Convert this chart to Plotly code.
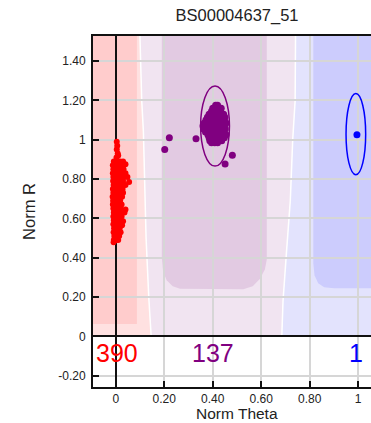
import plotly.graph_objects as go

# ---------------- data ----------------
title_text = "BS00004637_51"
x_title = "Norm Theta"
y_title = "Norm R"

x_tickvals = [0, 0.2, 0.4, 0.6, 0.8, 1.0]
x_ticktext = ["0", "0.20", "0.40", "0.60", "0.80", "1"]
y_tickvals = [-0.2, 0, 0.2, 0.4, 0.6, 0.8, 1.0, 1.2, 1.4]
y_ticktext = ["-0.20", "0", "0.20", "0.40", "0.60", "0.80", "1", "1.20", "1.40"]

x_range = [-0.094, 1.053]
y_range = [-0.258, 1.528]

# red cluster (x ~ 0)
red_x = [0.004, 0.006, 0.004, 0.008, 0.003, 0.010,
         -0.008, 0.005, 0.018, 0.030,
         -0.012, 0.002, 0.015, 0.028, 0.040,
         -0.010, 0.004, 0.020, 0.032,
         -0.012, 0.000, 0.012, 0.026, 0.040,
         -0.010, 0.006, 0.020, 0.034, 0.048,
         -0.011, 0.002, 0.016, 0.030, 0.055,
         -0.009, 0.008, 0.022, 0.040,
         -0.012, 0.003, 0.016, 0.028,
         -0.010, 0.005, 0.020, 0.030,
         -0.013, 0.000, 0.014, 0.026,
         -0.011, 0.004, 0.018,
         -0.012, 0.002, 0.015, 0.024,
         -0.010, 0.006, 0.020, 0.040,
         -0.008, 0.004, 0.016, 0.036,
         -0.010, 0.002, 0.014, 0.024,
         -0.008, 0.006, 0.018, 0.030,
         -0.010, 0.003, 0.015, 0.026,
         -0.007, 0.005, 0.016,
         -0.009, 0.002, 0.012, 0.020,
         -0.006, 0.005, 0.014,
         -0.008, 0.002, 0.010,
         -0.009]
red_y = [0.99, 0.97, 0.95, 0.93, 0.91, 0.92,
         0.89, 0.89, 0.89, 0.89,
         0.87, 0.87, 0.87, 0.87, 0.875,
         0.85, 0.85, 0.85, 0.85,
         0.83, 0.83, 0.83, 0.83, 0.83,
         0.81, 0.81, 0.81, 0.81, 0.81,
         0.79, 0.79, 0.79, 0.79, 0.785,
         0.77, 0.77, 0.77, 0.77,
         0.75, 0.75, 0.75, 0.75,
         0.73, 0.73, 0.73, 0.73,
         0.71, 0.71, 0.71, 0.71,
         0.69, 0.69, 0.69,
         0.67, 0.67, 0.67, 0.67,
         0.65, 0.65, 0.65, 0.645,
         0.63, 0.63, 0.63, 0.63,
         0.61, 0.61, 0.61, 0.61,
         0.59, 0.59, 0.59, 0.585,
         0.57, 0.57, 0.57, 0.565,
         0.55, 0.55, 0.55,
         0.53, 0.53, 0.53, 0.53,
         0.51, 0.51, 0.51,
         0.49, 0.49, 0.49,
         0.478]

# purple cluster (x ~ 0.4)
purple_x = [0.412, 0.420,
            0.400, 0.412, 0.425, 0.435,
            0.395, 0.408, 0.420, 0.432,
            0.385, 0.398, 0.410, 0.422, 0.435, 0.445,
            0.378, 0.390, 0.402, 0.415, 0.428, 0.440, 0.450,
            0.372, 0.385, 0.398, 0.410, 0.423, 0.436, 0.448,
            0.365, 0.378, 0.392, 0.405, 0.418, 0.430, 0.443, 0.455,
            0.360, 0.372, 0.386, 0.400, 0.412, 0.425, 0.438, 0.450,
            0.362, 0.375, 0.390, 0.403, 0.416, 0.428, 0.440, 0.452,
            0.370, 0.383, 0.396, 0.408, 0.420, 0.432, 0.445,
            0.380, 0.392, 0.405, 0.418, 0.430, 0.442, 0.455,
            0.385, 0.398, 0.410, 0.422, 0.435, 0.448,
            0.388, 0.400, 0.413, 0.425, 0.437,
            0.395, 0.408, 0.420,
            0.202, 0.221, 0.331, 0.481, 0.451]
purple_y = [1.175, 1.175,
            1.16, 1.16, 1.16, 1.16,
            1.145, 1.145, 1.145, 1.145,
            1.13, 1.13, 1.13, 1.13, 1.13, 1.13,
            1.115, 1.115, 1.115, 1.115, 1.115, 1.115, 1.115,
            1.10, 1.10, 1.10, 1.10, 1.10, 1.10, 1.10,
            1.085, 1.085, 1.085, 1.085, 1.085, 1.085, 1.085, 1.085,
            1.07, 1.07, 1.07, 1.07, 1.07, 1.07, 1.07, 1.07,
            1.055, 1.055, 1.055, 1.055, 1.055, 1.055, 1.055, 1.055,
            1.04, 1.04, 1.04, 1.04, 1.04, 1.04, 1.04,
            1.025, 1.025, 1.025, 1.025, 1.025, 1.025, 1.025,
            1.01, 1.01, 1.01, 1.01, 1.01, 1.01,
            0.995, 0.995, 0.995, 0.995, 0.995,
            0.985, 0.985, 0.985,
            0.950, 1.010, 1.005, 0.921, 0.877]

# blue cluster (x ~ 1)
blue_x = [0.995]
blue_y = [1.025]

# cluster ellipses: [x0, x1, y0, y1]
purple_ellipse = [0.350, 0.469, 0.866, 1.273]
blue_ellipse = [0.950, 1.031, 0.822, 1.235]

# cluster counts
count_labels = ["390", "137", "1"]
count_x = [0.003, 0.401, 0.993]
count_y = [-0.086, -0.086, -0.086]
count_colors = ["#ff0000", "#800080", "#0000ff"]

# classification region boundaries (data units)
b1_x = [0.098, 0.107, 0.114, 0.125, 0.136, 0.146]
b1_y = [1.60, 1.20, 1.04, 0.50, 0.20, 0.0]
b2_x = [0.742, 0.740, 0.730, 0.720, 0.705, 0.690, 0.685]
b2_y = [1.60, 1.20, 1.00, 0.69, 0.44, 0.18, 0.0]
pink_core_x = [-0.2, 0.087, 0.087, -0.2]
pink_core_y = [1.60, 1.60, 0.063, 0.063]
purple_core_x = [0.190, 0.190, 0.195, 0.210, 0.235, 0.265, 0.526, 0.565, 0.595, 0.615, 0.623, 0.623]
purple_core_y = [1.60, 0.40, 0.33, 0.285, 0.255, 0.242, 0.240, 0.255, 0.293, 0.34, 0.39, 1.60]
blue_core_x = [0.815, 0.815, 0.820, 0.835, 0.860, 0.900, 1.20, 1.20]
blue_core_y = [1.60, 0.37, 0.31, 0.27, 0.250, 0.245, 0.245, 1.60]

# ---------------- helpers ----------------
def path_from(xs, ys, close=True):
    s = "M " + " L ".join(f"{x},{y}" for x, y in zip(xs, ys))
    return s + (" Z" if close else "")

shapes = []
def region(xs, ys, color):
    shapes.append(dict(type="path", path=path_from(xs, ys), xref="x", yref="y",
                       fillcolor=color, line=dict(width=0), layer="below"))

# light pink: left edge to b1
region([-0.2] + b1_x + [-0.2], [1.60] + b1_y + [0.0], "#ffe1e1")
# lavender: b1 to b2
region(b1_x + b2_x[::-1], b1_y + b2_y[::-1], "#f1e4f1")
# pale blue: b2 to right
region(b2_x + [1.2, 1.2], b2_y + [0.0, 1.60], "#e3e3fd")
# cores
region(pink_core_x, pink_core_y, "#ffcccc")
region(purple_core_x, purple_core_y, "#e2cae2")
region(blue_core_x, blue_core_y, "#ccccfd")
# white boundary lines
for bx, by in [(b1_x, b1_y), (b2_x, b2_y)]:
    shapes.append(dict(type="path", path=path_from(bx, by, close=False), xref="x", yref="y",
                       line=dict(color="white", width=1.5), layer="below"))

# ellipses
for (x0, x1, y0, y1), col in [(purple_ellipse, "#800080"), (blue_ellipse, "#0000ff")]:
    shapes.append(dict(type="circle", xref="x", yref="y", x0=x0, x1=x1, y0=y0, y1=y1,
                       line=dict(color=col, width=1.5), layer="above"))

fig = go.Figure()
fig.add_trace(go.Scatter(x=red_x, y=red_y, mode="markers",
                         marker=dict(color="#ff0000", size=6, line=dict(width=0)),
                         showlegend=False, hoverinfo="skip"))
fig.add_trace(go.Scatter(x=purple_x, y=purple_y, mode="markers",
                         marker=dict(color="#800080", size=7, line=dict(width=0)),
                         showlegend=False, hoverinfo="skip"))
fig.add_trace(go.Scatter(x=blue_x, y=blue_y, mode="markers",
                         marker=dict(color="#0000ff", size=7, line=dict(width=0)),
                         showlegend=False, hoverinfo="skip"))

annotations = []
for t, x, y, c in zip(count_labels, count_x, count_y, count_colors):
    annotations.append(dict(text=t, x=x, y=y, xref="x", yref="y", showarrow=False,
                            xanchor="center", yanchor="middle",
                            font=dict(family="Liberation Sans, Arial, sans-serif", size=25, color=c)))
annotations.append(dict(text=x_title, xref="paper", yref="paper", x=0.518, y=-36 / 351,
                        showarrow=False, xanchor="center", yanchor="bottom", borderpad=0,
                        font=dict(family="Liberation Sans, Arial, sans-serif", size=15.5, color="#222")))

tick_font = dict(family="Liberation Sans, Arial, sans-serif", size=12, color="#222")

fig.update_layout(
    width=371, height=423,
    margin=dict(l=93, r=0, t=36, b=36),
    paper_bgcolor="white", plot_bgcolor="white",
    title=dict(text=title_text, x=0.639, xref="container", xanchor="center",
               y=1 - 15 / 423, yref="container", yanchor="middle",
               font=dict(family="Liberation Sans, Arial, sans-serif", size=16.5, color="#222")),
    shapes=shapes, annotations=annotations,
    xaxis=dict(range=x_range, tickvals=x_tickvals, ticktext=x_ticktext,
               showgrid=True, gridcolor="#d6d6d6", gridwidth=1.5,
               zeroline=True, zerolinecolor="#111", zerolinewidth=2,
               showline=True, linecolor="#111", linewidth=2, mirror=True,
               ticks="inside", ticklen=6, tickwidth=1.5, tickcolor="#111",
               tickfont=tick_font, ticklabelstandoff=0, fixedrange=True),
    yaxis=dict(range=y_range, tickvals=y_tickvals, ticktext=y_ticktext,
               showgrid=True, gridcolor="#d6d6d6", gridwidth=1.5,
               zeroline=True, zerolinecolor="#111", zerolinewidth=2,
               showline=True, linecolor="#111", linewidth=2, mirror=False,
               ticks="inside", ticklen=6, tickwidth=1.5, tickcolor="#111",
               tickfont=tick_font, ticklabelstandoff=3,
               title=dict(text=y_title, standoff=18,
                          font=dict(family="Liberation Sans, Arial, sans-serif", size=16.5, color="#222")),
               fixedrange=True),
)

fig.write_html("out.html")
